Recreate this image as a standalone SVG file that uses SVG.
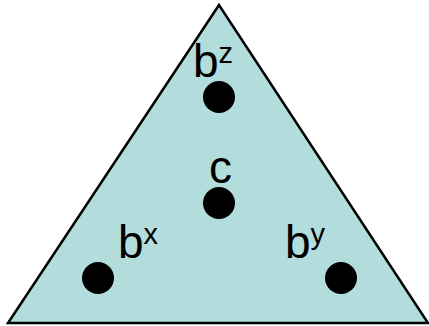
<svg xmlns="http://www.w3.org/2000/svg" width="429" height="326" viewBox="0 0 429 326">
<style>
.lbl{font-family:"Liberation Sans",Arial,sans-serif;font-size:46px;fill:#000}
.sup{font-size:29px}
.dot{fill:#000}
</style>
<rect width="429" height="326" fill="#fff"/>
<g id="triangle"><polygon points="219,5 8,323 428,323" fill="#b3dcdc" stroke="#000" stroke-width="2.5"/></g>
<g id="bz"><text class="lbl" x="193" y="77">b<tspan class="sup" dy="-14">z</tspan></text><circle class="dot" cx="219" cy="97" r="16"/></g>
<g id="c"><text class="lbl" x="209" y="183">c</text><circle class="dot" cx="219" cy="203" r="16"/></g>
<g id="bx"><text class="lbl" x="118" y="258">b<tspan class="sup" dy="-14">x</tspan></text><circle class="dot" cx="98" cy="278" r="16"/></g>
<g id="by"><text class="lbl" x="285" y="258">b<tspan class="sup" dy="-14">y</tspan></text><circle class="dot" cx="341" cy="278" r="16"/></g>
<g id="connectors"></g>
</svg>
